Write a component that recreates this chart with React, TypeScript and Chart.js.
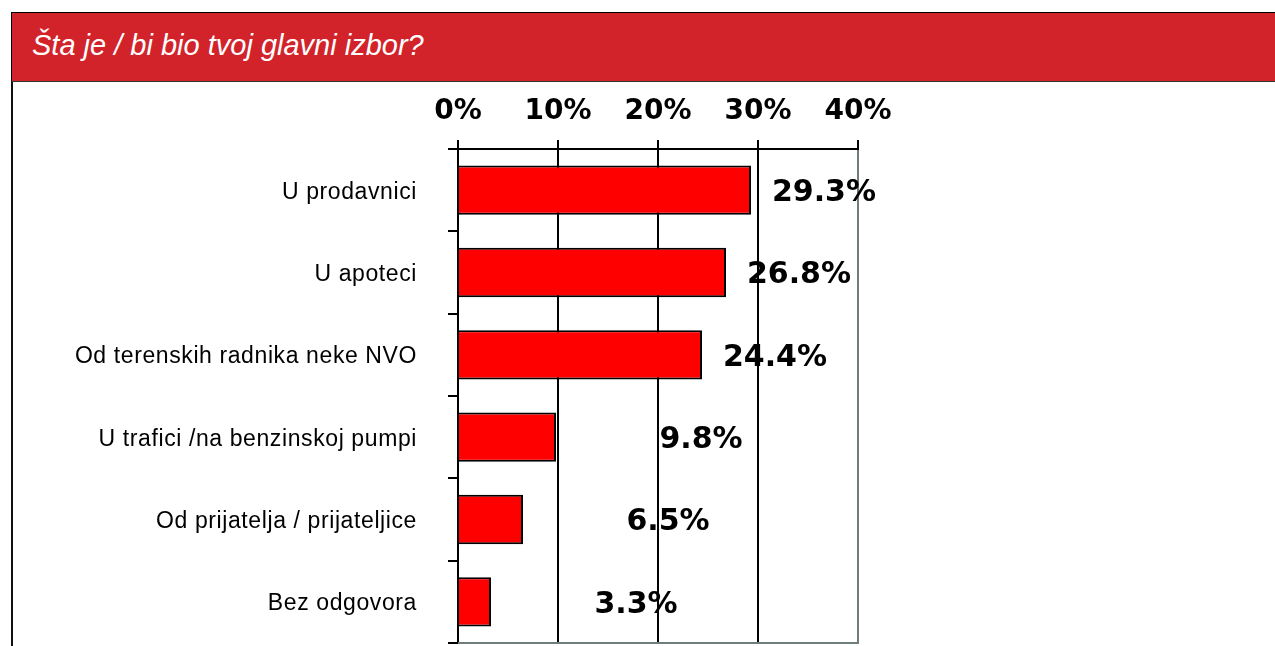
import React, { useEffect, useRef } from "react";
import { Chart, registerables } from "chart.js";

Chart.register(...registerables);

const title = "Šta je / bi bio tvoj glavni izbor?";
const categories = [
  "U prodavnici",
  "U apoteci",
  "Od terenskih radnika neke NVO",
  "U trafici /na benzinskoj pumpi",
  "Od prijatelja / prijateljice",
  "Bez odgovora",
];
const values = [29.3, 26.8, 24.4, 9.8, 6.5, 3.3];
const valueLabels = ["29.3%", "26.8%", "24.4%", "9.8%", "6.5%", "3.3%"];
const tickValues = [0, 10, 20, 30, 40];

const GREY = "#6f7d7d";

const labelPlugin = {
  id: "valueLabels",
  afterDatasetsDraw(chart: any) {
    const ctx = chart.ctx;
    const meta = chart.getDatasetMeta(0);
    const xs = chart.scales.x;
    ctx.save();
    ctx.font = "bold 30px 'DejaVu Sans'";
    ctx.fillStyle = "#000";
    ctx.textAlign = "center";
    ctx.textBaseline = "middle";
    meta.data.forEach((bar: any, i: number) => {
      const v = values[i];
      const shift = v < 15 ? 14.5 : 7.3;
      const x = xs.getPixelForValue(v + shift);
      ctx.fillText(valueLabels[i], x, bar.y + 3);
    });
    ctx.restore();
  },
  afterDraw(chart: any) {
    const { ctx, chartArea } = chart;
    const ys = chart.scales.y;
    ctx.save();
    ctx.strokeStyle = GREY;
    ctx.lineWidth = 2;
    ctx.beginPath();
    ctx.moveTo(chartArea.left, chartArea.bottom);
    ctx.lineTo(chartArea.right + 1, chartArea.bottom);
    ctx.stroke();
    // category labels
    ctx.font = "23px 'Liberation Sans'";
    (ctx as any).letterSpacing = "0.6px";
    ctx.fillStyle = "#000";
    ctx.textAlign = "right";
    ctx.textBaseline = "middle";
    categories.forEach((c, i) => {
      ctx.fillText(c, chartArea.left - 41, ys.getPixelForValue(i) + 2);
    });
    ctx.restore();
  },
};

export default function App() {
  const ref = useRef<HTMLCanvasElement>(null);
  useEffect(() => {
    if (!ref.current) return;
    const chart = new Chart(ref.current, {
      type: "bar",
      data: {
        labels: categories,
        datasets: [
          {
            data: values,
            backgroundColor: "#ff0000",
            borderColor: "#000000",
            borderWidth: 2,
            barPercentage: 0.6,
            categoryPercentage: 1,
          },
        ],
      },
      options: {
        indexAxis: "y",
        animation: false,
        responsive: false,
        maintainAspectRatio: false,
        layout: { padding: { left: 0, right: 417, top: 0, bottom: 3 } },
        plugins: { legend: { display: false }, tooltip: { enabled: false } },
        scales: {
          x: {
            position: "top",
            min: 0,
            max: 40,
            afterBuildTicks: (s: any) => {
              s.ticks = tickValues.map((v) => ({ value: v }));
            },
            afterFit: (s: any) => {
              s.height = 149;
            },
            ticks: {
              color: "#000",
              font: { family: "'DejaVu Sans'", size: 28, weight: "bold" },
              padding: 11,
              callback: (v: any) => v + "%",
            },
            grid: {
              color: (c: any) => (c.tick && c.tick.value === 40 ? GREY : "#000"),
              tickColor: "#000",
              lineWidth: 2,
              tickLength: 9,
            },
            border: { color: "#000", width: 2 },
          },
          y: {
            afterFit: (s: any) => {
              s.width = 458;
              s.paddingTop = 0;
              s.paddingBottom = 0;
            },
            ticks: {
              display: false,
            },
            grid: {
              drawOnChartArea: false,
              drawTicks: true,
              tickLength: 10,
              color: "#000",
              lineWidth: 2,
              offset: true,
            },
            border: { color: "#000", width: 2 },
          },
        },
      },
      plugins: [labelPlugin],
    });
    return () => chart.destroy();
  }, []);

  return (
    <div
      style={{
        position: "absolute",
        left: 0,
        top: 0,
        width: 1275,
        height: 646,
        background: "#fff",
        overflow: "hidden",
      }}
    >
      <canvas
        ref={ref}
        width={1275}
        height={646}
        style={{ position: "absolute", left: 0, top: 0, width: 1275, height: 646 }}
      />
      <div
        style={{
          position: "absolute",
          left: 11,
          top: 12,
          width: 1280,
          height: 68,
          background: "#d2232a",
          borderTop: "1px solid #000",
          borderLeft: "1px solid #000",
          borderBottom: "1px solid #333",
        }}
      >
        <div
          style={{
            position: "absolute",
            left: 20,
            top: 15,
            color: "#fff",
            fontFamily: "'Liberation Sans', Arial, sans-serif",
            fontStyle: "italic",
            fontSize: 29,
            lineHeight: "34px",
            whiteSpace: "nowrap",
          }}
        >
          {title}
        </div>
      </div>
      <div
        style={{
          position: "absolute",
          left: 11,
          top: 82,
          width: 2,
          height: 600,
          background: "#111",
        }}
      />
    </div>
  );
}
